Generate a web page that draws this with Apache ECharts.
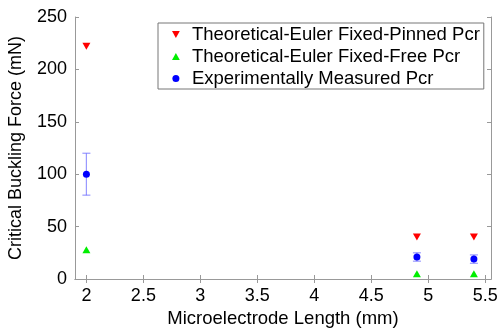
<!DOCTYPE html>
<html>
<head>
<meta charset="utf-8">
<script src="https://cdn.jsdelivr.net/npm/echarts@6/dist/echarts.min.js"></script>
<style>
  html, body { margin: 0; padding: 0; background: #fff; }
  #chart { width: 502px; height: 329px; }
</style>
</head>
<body>
<div id="chart"></div>
<script>
// data
var lengths = [2, 4.9, 5.4];
var pinned = [222, 40, 40];
var free = [28, 5, 5];
var measured = [100, 21, 19];
var measuredErr = [20, 4, 4];
var xTicks = [2, 2.5, 3, 3.5, 4, 4.5, 5, 5.5];

var font = 'Liberation Sans, Arial, sans-serif';
var downTri = 'path://M0,0 L10,0 L5,9 Z';
var upTri = 'path://M5,0 L10,9 L0,9 Z';

function pairs(ys) {
    return lengths.map(function (x, i) { return [x, ys[i]]; });
}
var errData = lengths.map(function (x, i) {
    return [x, measured[i] - measuredErr[i], measured[i] + measuredErr[i]];
});

var chart = echarts.init(document.getElementById('chart'));

var baseX = {
    type: 'value', min: 1.9, max: 5.55, interval: 0.5,
    splitLine: { show: false },
    axisLine: { show: true, lineStyle: { color: '#999', width: 1 } },
    axisTick: { show: true, inside: true, length: 4, lineStyle: { color: '#999' },
        customValues: xTicks }
};
var baseY = {
    type: 'value', min: 0, max: 250, interval: 50,
    splitLine: { show: false },
    axisLine: { show: true, lineStyle: { color: '#999', width: 1 } },
    axisTick: { show: true, inside: true, length: 4, lineStyle: { color: '#999' } }
};

chart.setOption({
    animation: false,
    grid: { left: 75, top: 17, right: 11, bottom: 50, outerBoundsMode: 'none', containLabel: false },
    legend: {
        orient: 'vertical',
        left: 158, top: 23,
        padding: [2, 4, 1, 14],
        itemGap: 3,
        itemWidth: 14, itemHeight: 7,
        borderColor: '#777', borderWidth: 1,
        textStyle: { fontFamily: font, fontSize: 18.5, lineHeight: 19, color: '#000',
            padding: [0, 0, 0, 4] },
        data: [
            { name: 'Theoretical-Euler Fixed-Pinned Pcr', icon: downTri },
            { name: 'Theoretical-Euler Fixed-Free Pcr', icon: upTri },
            { name: 'Experimentally Measured Pcr', icon: 'circle' }
        ]
    },
    xAxis: [
        Object.assign({}, baseX, {
            position: 'bottom',
            name: 'Microelectrode Length (mm)',
            nameLocation: 'middle', nameGap: 29,
            nameTextStyle: { fontFamily: font, fontSize: 18.5, color: '#000' },
            axisLabel: { fontFamily: font, fontSize: 18, color: '#000', margin: 8,
                customValues: xTicks,
                formatter: function (v) { return String(+v.toFixed(1)); } }
        }),
        Object.assign({}, baseX, { position: 'top', axisLabel: { show: false } })
    ],
    yAxis: [
        Object.assign({}, baseY, {
            position: 'left',
            name: 'Critical Buckling Force (mN)',
            nameLocation: 'middle', nameGap: 50,
            nameTextStyle: { fontFamily: font, fontSize: 18, color: '#000' },
            axisLabel: { fontFamily: font, fontSize: 18, color: '#000', margin: 8 }
        }),
        Object.assign({}, baseY, { position: 'right', axisLabel: { show: false } })
    ],
    series: [
        {
            name: 'Theoretical-Euler Fixed-Pinned Pcr',
            type: 'scatter',
            symbol: downTri, symbolSize: [8, 7],
            itemStyle: { color: '#ff0000', opacity: 1 },
            data: pairs(pinned)
        },
        {
            name: 'Theoretical-Euler Fixed-Free Pcr',
            type: 'scatter',
            symbol: upTri, symbolSize: [8, 7],
            itemStyle: { color: '#00ee00', opacity: 1 },
            data: pairs(free)
        },
        {
            name: 'measuredErr',
            type: 'custom',
            renderItem: function (params, api) {
                var x = api.value(0);
                var lo = api.coord([x, api.value(1)]);
                var hi = api.coord([x, api.value(2)]);
                var w = 4;
                var style = { stroke: 'rgba(110,110,255,0.7)', lineWidth: 1.2 };
                return {
                    type: 'group',
                    children: [
                        { type: 'line', shape: { x1: lo[0], y1: lo[1], x2: hi[0], y2: hi[1] }, style: style },
                        { type: 'line', shape: { x1: lo[0] - w, y1: lo[1], x2: lo[0] + w, y2: lo[1] }, style: style },
                        { type: 'line', shape: { x1: hi[0] - w, y1: hi[1], x2: hi[0] + w, y2: hi[1] }, style: style }
                    ]
                };
            },
            encode: { x: 0, y: [1, 2] },
            data: errData,
            z: 1
        },
        {
            name: 'Experimentally Measured Pcr',
            type: 'scatter',
            symbol: 'circle', symbolSize: 7,
            itemStyle: { color: '#0000ff', opacity: 1 },
            data: pairs(measured),
            z: 3
        }
    ]
});
</script>
</body>
</html>
